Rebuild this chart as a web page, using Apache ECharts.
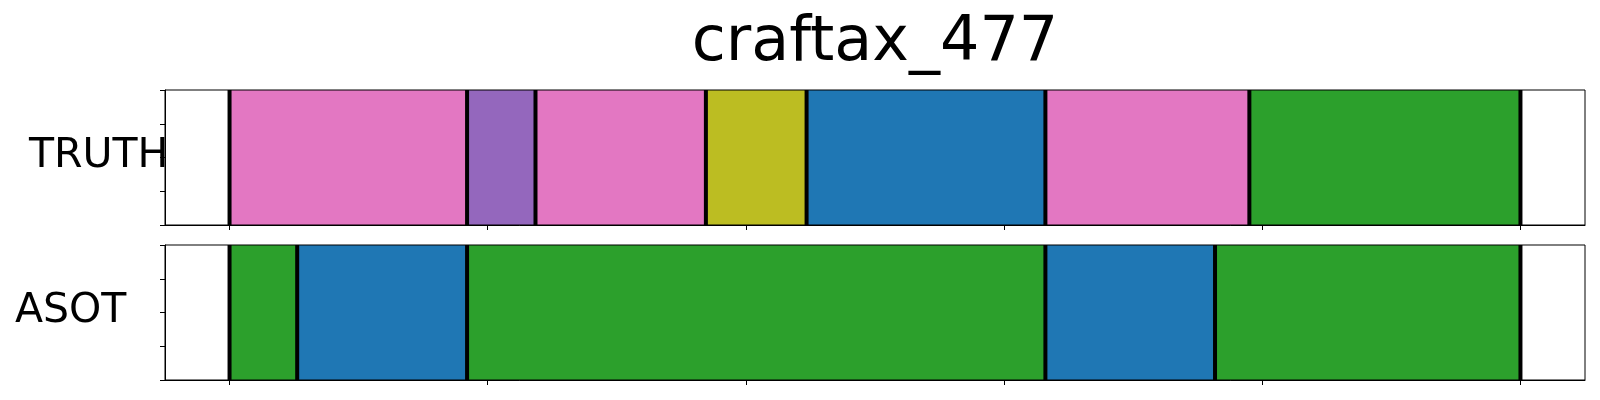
<!DOCTYPE html>
<html>
<head>
<meta charset="utf-8">
<script src="https://cdn.jsdelivr.net/npm/echarts@6/dist/echarts.min.js"></script>
<style>html,body{margin:0;padding:0;background:#fff}#c{width:1600px;height:400px}</style>
</head>
<body>
<div id="c"></div>
<script>
// ---- data ----
const title = 'craftax_477';
const rowNames = ['TRUTH', 'ASOT'];
// segment boundaries (frames) and class ids per segment
const truthBounds = [0, 92, 118.5, 184.5, 223.5, 316, 395, 500];
const truthClasses = [6, 4, 6, 8, 0, 6, 2];
const asotBounds = [0, 26.2, 92, 316, 381.7, 500];
const asotClasses = [2, 0, 2, 0, 2];
const xTicks = [0, 100, 200, 300, 400, 500];
const xMin = -25, xMax = 525;
const palette = ['#1f77b4', '#ff7f0e', '#2ca02c', '#d62728', '#9467bd', '#8c564b', '#e377c2', '#7f7f7f', '#bcbd22', '#17becf'];

function segs(bounds, classes) {
  return classes.map((c, i) => [bounds[i], bounds[i + 1], c]);
}

const chart = echarts.init(document.getElementById('c'), null, {renderer: 'canvas'});
const grids = [
  {left: 165, top: 90, width: 1420, height: 135},
  {left: 165, top: 245, width: 1420, height: 135}
];
const font = '"DejaVu Sans", sans-serif';

function rectItem(params, api) {
  const p0 = api.coord([api.value(0), 1]);
  const p1 = api.coord([api.value(1), 0]);
  return {
    type: 'rect',
    shape: {x: p0[0], y: p0[1], width: p1[0] - p0[0], height: p1[1] - p0[1]},
    style: {fill: palette[api.value(2)]}
  };
}
function lineItem(params, api) {
  const a = api.coord([api.value(0), 0]);
  const b = api.coord([api.value(0), 1]);
  return {
    type: 'line',
    shape: {x1: a[0], y1: a[1], x2: b[0], y2: b[1]},
    style: {stroke: '#000', lineWidth: 4, lineCap: 'butt'}
  };
}

const xAxes = [0, 1].map(i => ({
  type: 'value', gridIndex: i, min: xMin, max: xMax,
  axisLine: {show: true, onZero: false, lineStyle: {color: '#000', width: 1}},
  axisTick: {show: true, inside: false, length: 5, lineStyle: {color: '#000', width: 1}, customValues: xTicks},
  axisLabel: {show: false},
  splitLine: {show: false}
}));
const yAxes = [0, 1].map(i => ({
  type: 'value', gridIndex: i, min: 0, max: 1, interval: 0.25,
  axisLine: {show: true, onZero: false, lineStyle: {color: '#000', width: 1}},
  axisTick: {show: true, inside: false, length: 5, lineStyle: {color: '#000', width: 1}},
  axisLabel: {show: false},
  splitLine: {show: false}
}));

const allBounds = [truthBounds, asotBounds];
const allSegs = [segs(truthBounds, truthClasses), segs(asotBounds, asotClasses)];

const series = [];
[0, 1].forEach(i => {
  series.push({type: 'custom', xAxisIndex: i, yAxisIndex: i, renderItem: rectItem,
    data: allSegs[i], z: 2, silent: true, clip: true});
  series.push({type: 'custom', xAxisIndex: i, yAxisIndex: i, renderItem: lineItem,
    data: allBounds[i].map(b => [b]), z: 3, silent: true});
});

chart.setOption({
  animation: false,
  backgroundColor: '#fff',
  grid: grids.map(g => Object.assign({show: true, borderColor: '#000', borderWidth: 1, backgroundColor: 'transparent', z: 5}, g)),
  xAxis: xAxes,
  yAxis: yAxes,
  series: series,
  graphic: [
    {type: 'text', x: 875, y: 44, z: 10, style: {text: title, font: '62px ' + font, fill: '#000', textAlign: 'center', textVerticalAlign: 'middle'}},
    {type: 'text', x: 29, y: 156, z: 10, style: {text: rowNames[0], font: '41px ' + font, fill: '#000', textAlign: 'left', textVerticalAlign: 'middle'}},
    {type: 'text', x: 15, y: 311, z: 10, style: {text: rowNames[1], font: '41px ' + font, fill: '#000', textAlign: 'left', textVerticalAlign: 'middle'}}
  ]
});
</script>
</body>
</html>
